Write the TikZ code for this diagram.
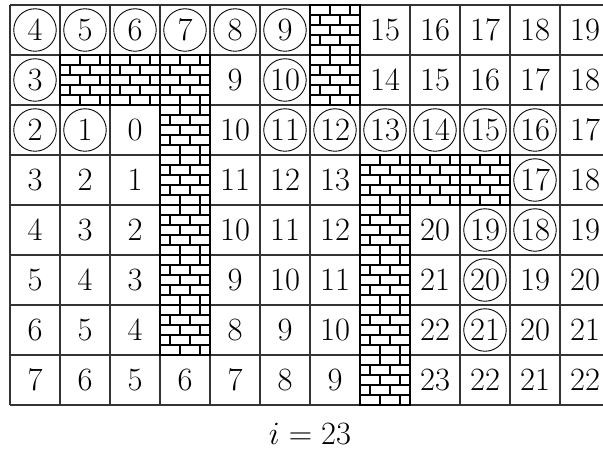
\RequirePackage{fix-cm}
\documentclass[tikz,border=0pt]{standalone}
\usepackage{fontspec}
\begin{document}
\begin{tikzpicture}[x=1cm,y=1cm,
  font=\fontsize{18.5}{22}\selectfont,
  gridline/.style={line width=0.6pt, draw=black!80},
  brickline/.style={line width=0.6pt, draw=black},
  num/.style={inner sep=0pt},
  circ/.style={circle, draw, line width=0.5pt, minimum size=0.85cm, inner sep=0pt}]
\clip (-0.2,0.1) rectangle (11.86,-8.98);
\draw[gridline] (0,0) grid (12,-8);
% brick cells
\foreach \c/\r in {6/0,1/1,2/1,3/1,6/1,3/2,3/3,7/3,8/3,9/3,3/4,7/4,3/5,7/5,3/6,7/6,7/7} {
  \fill[white] (\c,-\r) rectangle ++(1,-1);
  \foreach \k in {1,...,4} \draw[brickline] (\c,-\r-0.2*\k) -- ++(1,0);
  \foreach \k in {0,2,4} \foreach \x in {0.4,0.8} \draw[brickline] (\c+\x,-\r-0.2*\k) -- ++(0,-0.2);
  \foreach \k in {1,3} \foreach \x in {0.2,0.6} \draw[brickline] (\c+\x,-\r-0.2*\k) -- ++(0,-0.2);
  \draw[brickline, line width=0.8pt] (\c,-\r) rectangle ++(1,-1);
}
% circled numbers
\foreach \c/\r/\n in {0/0/4,1/0/5,2/0/6,3/0/7,4/0/8,5/0/9,0/1/3,5/1/10,0/2/2,1/2/1,5/2/11,6/2/12,7/2/13,8/2/14,9/2/15,10/2/16,10/3/17,9/4/19,10/4/18,9/5/20,9/6/21}
  \node[circ] (n-\c-\r) at (\c+0.5,-\r-0.5) {\n};
% plain numbers
\foreach \c/\r/\n in {7/0/15,8/0/16,9/0/17,10/0/18,11/0/19,
  4/1/9,7/1/14,8/1/15,9/1/16,10/1/17,11/1/18,
  2/2/0,4/2/10,11/2/17,
  0/3/3,1/3/2,2/3/1,4/3/11,5/3/12,6/3/13,11/3/18,
  0/4/4,1/4/3,2/4/2,4/4/10,5/4/11,6/4/12,8/4/20,11/4/19,
  0/5/5,1/5/4,2/5/3,4/5/9,5/5/10,6/5/11,8/5/21,10/5/19,11/5/20,
  0/6/6,1/6/5,2/6/4,4/6/8,5/6/9,6/6/10,8/6/22,10/6/20,11/6/21,
  0/7/7,1/7/6,2/7/5,3/7/6,4/7/7,5/7/8,6/7/9,8/7/23,9/7/22,10/7/21,11/7/22}
  \node[num] (n-\c-\r) at (\c+0.5,-\r-0.5) {\n};
\node (cap) at (6,-8.58) {$i = 23$};
\end{tikzpicture}
\end{document}
